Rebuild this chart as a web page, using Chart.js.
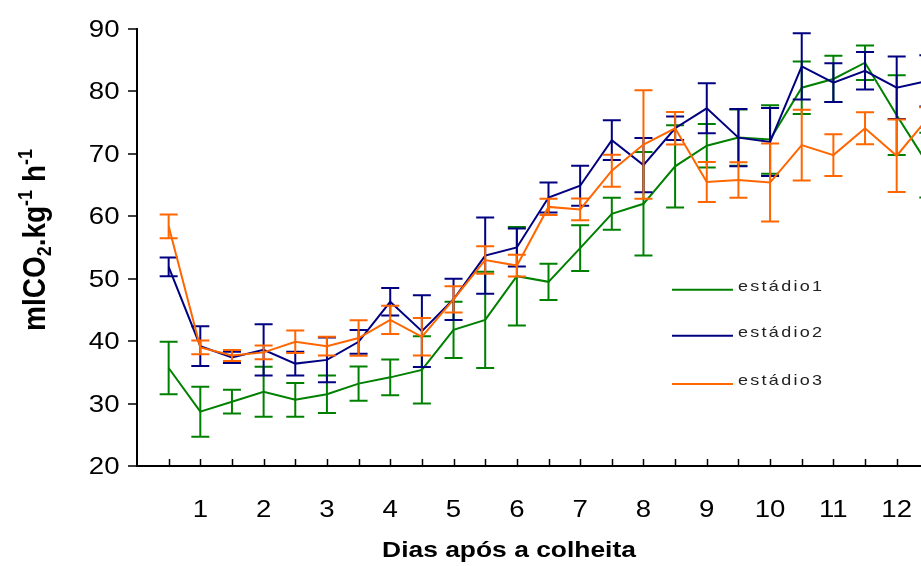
<!DOCTYPE html>
<html>
<head>
<meta charset="utf-8">
<script src="https://cdn.jsdelivr.net/npm/chart.js@4.4.1/dist/chart.umd.min.js"></script>
<style>
  html, body { margin: 0; padding: 0; background: #ffffff; overflow: hidden; }
  #wrap { width: 980px; height: 566px; }
</style>
</head>
<body>
<div id="wrap"><canvas id="c" width="980" height="566"></canvas></div>
<script>
// Sampling times (days after harvest, every half day)
const days = [0.5, 1, 1.5, 2, 2.5, 3, 3.5, 4, 4.5, 5, 5.5, 6, 6.5,
              7, 7.5, 8, 8.5, 9, 9.5, 10, 10.5, 11, 11.5, 12, 12.5];

// Labelled ticks on the time axis
const dayTicks = [1, 2, 3, 4, 5, 6, 7, 8, 9, 10, 11, 12];

// Respiration-rate ticks
const rateTicks = [20, 30, 40, 50, 60, 70, 80, 90];

const seriesNames = ['estádio1', 'estádio2', 'estádio3'];
const seriesColors = ['#008000', '#000080', '#FF6600'];

// estádio1: mean and error
const estadio1 = [35.7, 28.7, 30.3, 31.9, 30.6, 31.5, 33.2, 34.2, 35.4, 41.8, 43.4, 50.4, 49.5,
                  54.9, 60.4, 62.0, 68.0, 71.3, 72.6, 72.3, 80.6, 82.0, 84.6, 76.2, 68.2];
const estadio1Err = [4.2, 4.0, 1.9, 4.0, 2.7, 3.0, 2.75, 2.85, 5.4, 4.5, 7.7, 7.9, 2.9,
                     3.65, 2.55, 8.3, 6.6, 3.5, 4.5, 5.5, 4.2, 3.7, 2.75, 6.4, 5.2];

// estádio2: mean and error
const estadio2 = [51.9, 39.2, 37.4, 38.6, 36.4, 37.0, 39.9, 46.3, 41.6, 46.7, 53.7, 55.0, 63.0,
                  64.9, 72.2, 68.2, 74.1, 77.3, 72.6, 71.9, 84.0, 81.4, 83.3, 80.6, 81.7];
const estadio2Err = [1.5, 3.2, 0.9, 4.1, 1.9, 3.6, 1.9, 2.2, 5.75, 3.3, 6.1, 3.05, 2.4,
                     3.2, 3.2, 4.35, 1.9, 4.0, 4.6, 5.45, 5.3, 3.1, 3.0, 5.0, 4.1];

// estádio3: mean and error
const estadio3 = [58.4, 39.0, 37.7, 38.2, 39.9, 39.2, 40.5, 43.4, 40.7, 46.7, 53.0, 52.1, 61.5,
                  61.1, 67.3, 71.5, 74.1, 65.5, 65.8, 65.4, 71.4, 69.8, 74.1, 69.7, 75.8];
const estadio3Err = [1.9, 1.1, 0.9, 1.1, 1.8, 1.5, 2.85, 2.25, 3.0, 2.1, 2.2, 1.75, 1.3,
                     1.75, 2.55, 8.7, 2.6, 3.2, 2.85, 6.25, 5.65, 3.35, 2.55, 5.8, 1.65];

const means = [estadio1, estadio2, estadio3];
const errors = [estadio1Err, estadio2Err, estadio3Err];

const TEXT_STRETCH = 1.2;
const FONT = '"Liberation Sans", Arial, sans-serif';

function drawStretched(ctx, text, x, y, align, font) {
  ctx.save();
  ctx.font = font;
  ctx.translate(x, y);
  ctx.scale(TEXT_STRETCH, 1);
  ctx.textAlign = align;
  ctx.textBaseline = 'alphabetic';
  ctx.fillStyle = '#000';
  ctx.fillText(text, 0, 0);
  ctx.restore();
}

// Vertical error bars with caps, drawn right after each line
const errorBars = {
  id: 'errorBars',
  afterDatasetDraw(chart, args) {
    const i = args.index;
    const xs = chart.scales.x, ys = chart.scales.y;
    const ctx = chart.ctx;
    const m = means[i], e = errors[i];
    ctx.save();
    ctx.strokeStyle = seriesColors[i];
    ctx.lineWidth = 2;
    const half = 9;
    for (let k = 0; k < days.length; k++) {
      const px = xs.getPixelForValue(days[k]);
      const yt = ys.getPixelForValue(m[k] + e[k]);
      const yb = ys.getPixelForValue(m[k] - e[k]);
      ctx.beginPath();
      ctx.moveTo(px, yt); ctx.lineTo(px, yb);
      ctx.moveTo(px - half, yt); ctx.lineTo(px + half, yt);
      ctx.moveTo(px - half, yb); ctx.lineTo(px + half, yb);
      ctx.stroke();
    }
    ctx.restore();
  }
};

// Axis ticks, tick labels, axis titles and legend
const axesAndLegend = {
  id: 'axesAndLegend',
  afterDraw(chart) {
    const ctx = chart.ctx;
    const xs = chart.scales.x, ys = chart.scales.y;
    const area = chart.chartArea;
    ctx.save();
    ctx.strokeStyle = '#000';
    ctx.lineWidth = 1.5;

    // y ticks (outside) and labels
    rateTicks.forEach(v => {
      const py = Math.round(ys.getPixelForValue(v));
      ctx.beginPath();
      ctx.moveTo(area.left - 9, py); ctx.lineTo(area.left, py);
      ctx.stroke();
      drawStretched(ctx, String(v), area.left - 17.5, py + 8.2, 'right', '23px ' + FONT);
    });

    // x ticks (inside) at every sample
    days.forEach(d => {
      const px = Math.round(xs.getPixelForValue(d)) + 0.5;
      ctx.beginPath();
      ctx.moveTo(px, area.bottom); ctx.lineTo(px, area.bottom - 7);
      ctx.stroke();
    });
    dayTicks.forEach(d => {
      const px = xs.getPixelForValue(d);
      drawStretched(ctx, String(d), px, 516.5, 'center', '23px ' + FONT);
    });

    // x title
    drawStretched(ctx, 'Dias após a colheita', 509, 557, 'center', 'bold 22px ' + FONT);

    // y title with subscript / superscripts
    const parts = [
      { t: 'mlCO', k: 0 }, { t: '2', k: 1 }, { t: '.kg', k: 0 },
      { t: '-1', k: -1 }, { t: ' h', k: 0 }, { t: '-1', k: -1 }
    ];
    const big = 'bold 28px ' + FONT, small = 'bold 18px ' + FONT;
    let total = 0;
    parts.forEach(p => { ctx.font = p.k === 0 ? big : small; p.w = ctx.measureText(p.t).width; total += p.w; });
    ctx.save();
    ctx.translate(45, 240);
    ctx.rotate(-Math.PI / 2);
    ctx.scale(1, 1.1);
    ctx.fillStyle = '#000';
    ctx.textBaseline = 'alphabetic';
    ctx.textAlign = 'left';
    let x = -total / 2;
    parts.forEach(p => {
      ctx.font = p.k === 0 ? big : small;
      const dy = p.k === 1 ? 5 : (p.k === -1 ? -12 : 0);
      ctx.fillText(p.t, x, dy);
      x += p.w;
    });
    ctx.restore();

    // legend
    const rows = [289.7, 335.7, 384];
    chart.data.datasets.forEach((ds, i) => {
      const y = rows[i];
      ctx.strokeStyle = ds.borderColor;
      ctx.lineWidth = 2;
      ctx.beginPath();
      ctx.moveTo(672, y); ctx.lineTo(733, y);
      ctx.stroke();
      ctx.save();
      ctx.font = '15px ' + FONT;
      ctx.fillStyle = '#222';
      ctx.textBaseline = 'alphabetic';
      ctx.translate(738, y + 0.8);
      ctx.scale(TEXT_STRETCH, 1);
      let cx = 0;
      for (const ch of ds.label) {
        ctx.fillText(ch, cx, 0);
        cx += ctx.measureText(ch).width + 1.9;
      }
      ctx.restore();
    });
    ctx.restore();
  }
};

const datasets = seriesNames.map((name, i) => ({
  label: name,
  data: days.map((d, k) => ({ x: d, y: means[i][k] })),
  borderColor: seriesColors[i],
  backgroundColor: seriesColors[i],
  borderWidth: 2,
  pointRadius: 0,
  tension: 0,
  fill: false,
  order: 2 - i
}));

new Chart(document.getElementById('c'), {
  type: 'line',
  data: { datasets },
  options: {
    responsive: false,
    animation: false,
    layout: { padding: { left: 0, right: 20, top: 29, bottom: 0 } },
    plugins: { legend: { display: false }, tooltip: { enabled: false } },
    scales: {
      x: {
        type: 'linear', min: 0, max: 13,
        grid: { display: false },
        border: { display: true, color: '#000', width: 2 },
        ticks: { display: false },
        afterFit(s) { s.height = 100; }
      },
      y: {
        type: 'linear', min: 20, max: 90,
        grid: { display: false },
        border: { display: true, color: '#000', width: 2 },
        ticks: { display: false, stepSize: 10 },
        afterFit(s) { s.width = 137; }
      }
    }
  },
  plugins: [errorBars, axesAndLegend]
});
</script>
</body>
</html>
